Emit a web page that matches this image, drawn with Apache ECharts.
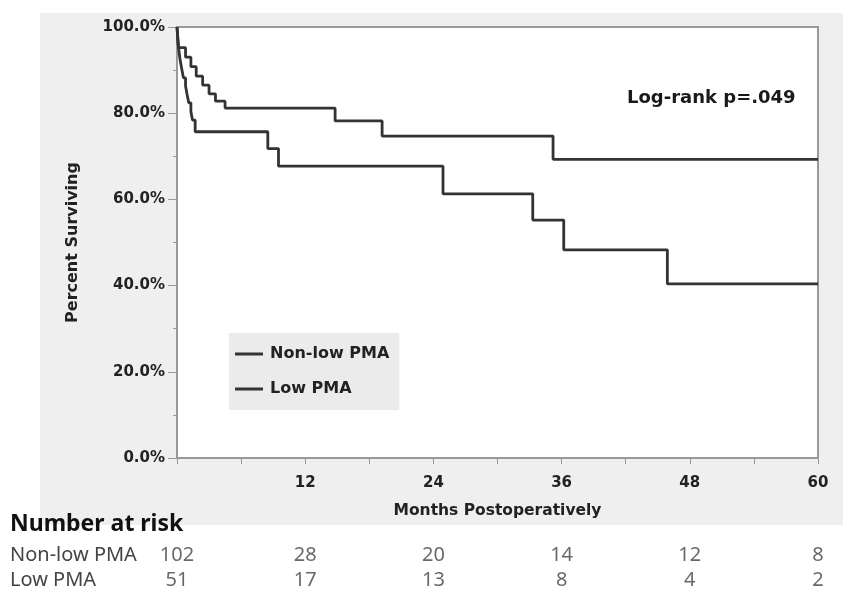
<!DOCTYPE html>
<html>
<head>
<meta charset="utf-8">
<script src="https://cdn.jsdelivr.net/npm/echarts@6/dist/echarts.min.js"></script>
<style>
  html, body { margin: 0; padding: 0; background: #fff; }
  #chart { width: 843px; height: 596px; }
</style>
</head>
<body>
<div id="chart"></div>
<script>
// Kaplan-Meier steps (months, percent surviving)
const nonLowMonths = [0, 0.15, 0.8, 1.3, 1.8, 2.4, 3.0, 3.6, 4.5, 14.8, 19.2, 35.2, 60];
const nonLowSurv = [100, 95.2, 93.0, 90.8, 88.6, 86.5, 84.5, 82.8, 81.2, 78.2, 74.7, 69.3, 69.3];

const lowMonths = [0, 0.05, 0.1, 0.2, 0.3, 0.45, 0.6, 0.8, 0.95, 1.1, 1.3, 1.45, 1.7, 8.5, 9.5, 24.9, 33.3, 36.2, 45.9, 60];
const lowSurv = [100, 98, 96.1, 94.1, 92.2, 90.2, 88.2, 86.3, 84.3, 82.4, 80.4, 78.4, 75.7, 71.8, 67.7, 61.3, 55.2, 48.3, 40.4, 40.4];

// number at risk table
const riskGroups = ["Non-low PMA", "Low PMA"];
const riskMonths = [0, 12, 24, 36, 48, 60];
const riskNonLow = [102, 28, 20, 14, 12, 8];
const riskLow = [51, 17, 13, 8, 4, 2];

const zip = (xs, ys) => xs.map((x, i) => [x, ys[i]]);
const riskData = riskMonths.map((m, i) => [m, riskGroups[0], riskNonLow[i]])
  .concat(riskMonths.map((m, i) => [m, riskGroups[1], riskLow[i]]));

const axisFont = { fontFamily: "DejaVu Sans", fontWeight: "bold", fontSize: 15, color: "#222" };
const nameFont = { fontFamily: "DejaVu Sans", fontWeight: "bold", fontSize: 15.5, color: "#222" };
const lineColor = "#333";

const chart = echarts.init(document.getElementById("chart"));
chart.setOption({
  backgroundColor: "#fff",
  animation: false,
  graphic: [
    {
      type: "rect",
      z: -10,
      shape: { x: 40, y: 13, width: 803, height: 512 },
      style: { fill: "#efefef" }
    },
    {
      type: "text",
      x: 627, y: 98,
      style: {
        text: "Log-rank p=.049",
        font: "bold 18px 'DejaVu Sans'",
        fill: "#1a1a1a",
        verticalAlign: "middle"
      }
    },
    {
      type: "text",
      x: 10, y: 524,
      style: {
        text: "Number at risk",
        font: "bold 23px 'Noto Sans'",
        fill: "#111",
        verticalAlign: "middle"
      }
    }
  ],
  legend: {
    orient: "vertical",
    left: 229,
    top: 333,
    backgroundColor: "#ebebeb",
    padding: [12, 10, 12, 6],
    icon: "rect",
    itemWidth: 28,
    itemHeight: 3,
    itemGap: 17,
    data: ["Non-low PMA", "Low PMA"],
    textStyle: {
      fontFamily: "DejaVu Sans", fontWeight: "bold", fontSize: 16, color: "#222",
      lineHeight: 18, padding: [0, 0, 0, 2]
    }
  },
  grid: [
    {
      left: 177, right: 25, top: 27, height: 431,
      show: true,
      backgroundColor: "#fff",
      borderColor: "#999",
      borderWidth: 2
    },
    { left: 177, right: 25, top: 543, height: 50 }
  ],
  xAxis: [
    {
      type: "value",
      min: 0, max: 60, interval: 6,
      name: "Months Postoperatively",
      nameLocation: "middle",
      nameGap: 45,
      nameTextStyle: nameFont,
      axisLine: { lineStyle: { color: "#999", width: 2 } },
      axisTick: { length: 6, lineStyle: { color: "#999" } },
      splitLine: { show: false },
      axisLabel: Object.assign({
        margin: 18,
        formatter: v => (v > 0 && v % 12 === 0 ? String(v) : "")
      }, axisFont)
    },
    { type: "value", gridIndex: 1, min: 0, max: 60, show: false }
  ],
  yAxis: [
    {
      type: "value",
      min: 0, max: 100, interval: 20,
      name: "Percent Surviving",
      nameLocation: "middle",
      nameRotate: 90,
      nameGap: 96,
      nameTextStyle: Object.assign({}, nameFont, { fontSize: 16 }),
      axisLine: { show: true, lineStyle: { color: "#999", width: 2 } },
      axisTick: { show: true, length: 9, lineStyle: { color: "#999" } },
      minorTick: { show: true, splitNumber: 2, length: 4, lineStyle: { color: "#999" } },
      splitLine: { show: false },
      axisLabel: Object.assign({
        margin: 12,
        formatter: v => v.toFixed(1) + "%"
      }, axisFont)
    },
    {
      type: "category",
      gridIndex: 1,
      inverse: true,
      data: riskGroups,
      axisLine: { show: false },
      axisTick: { show: false },
      axisLabel: {
        interval: 0,
        margin: 167,
        align: "left",
        fontFamily: "Noto Sans",
        fontSize: 20,
        color: "#444"
      }
    }
  ],
  series: [
    {
      name: "Non-low PMA",
      type: "line",
      step: "end",
      symbol: "none",
      data: zip(nonLowMonths, nonLowSurv),
      itemStyle: { color: lineColor },
      lineStyle: { color: lineColor, width: 2.8 }
    },
    {
      name: "Low PMA",
      type: "line",
      step: "end",
      symbol: "none",
      data: zip(lowMonths, lowSurv),
      itemStyle: { color: lineColor },
      lineStyle: { color: lineColor, width: 2.8 }
    },
    {
      name: "risk",
      type: "scatter",
      xAxisIndex: 1,
      yAxisIndex: 1,
      symbolSize: 1,
      itemStyle: { color: "transparent" },
      data: riskData,
      label: {
        show: true,
        position: "inside",
        formatter: p => String(p.value[2]),
        fontFamily: "Noto Sans",
        fontSize: 20,
        color: "#444"
      }
    }
  ]
});
</script>
</body>
</html>
